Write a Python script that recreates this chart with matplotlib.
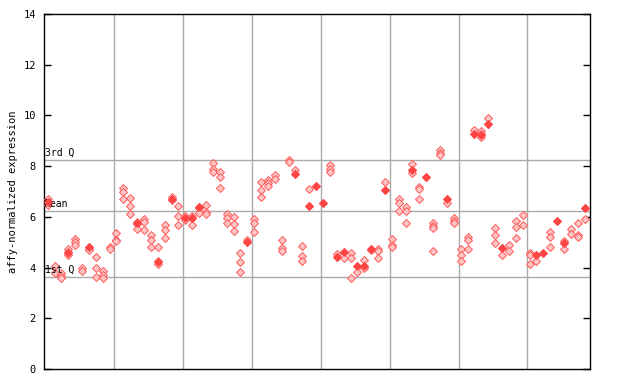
import matplotlib
matplotlib.use("Agg")
import matplotlib.pyplot as plt
import numpy as np

# values per sample column
samples = [
    [6.7, 6.57, 6.45], [4.07, 3.77], [3.77, 3.66, 3.6], [4.75, 4.62, 4.49],
    [5.13, 5.0, 4.9], [3.98, 3.88], [4.82, 4.75, 4.68], [4.4, 3.98, 3.62],
    [3.88, 3.7, 3.6], [4.8, 4.74],
    [5.38, 5.1, 5.05], [7.15, 6.98, 6.7], [6.74, 6.42, 6.12], [5.8, 5.73, 5.5],
    [5.93, 5.8, 5.47], [5.3, 5.1, 4.8], [4.82, 4.25, 4.15], [5.67, 5.48, 5.15],
    [6.77, 6.67], [6.43, 6.05, 5.69],
    [6.05, 5.95, 5.88], [6.05, 5.95, 5.68], [6.4, 6.35, 6.15], [6.45, 6.2, 6.1],
    [8.14, 7.9, 7.76], [7.75, 7.55, 7.12], [6.1, 5.94, 5.74], [5.98, 5.7, 5.44],
    [4.56, 4.2, 3.81], [5.1, 5.0],
    [5.91, 5.74, 5.39], [7.36, 7.05, 6.77], [7.45, 7.34, 7.21], [7.64, 7.47],
    [5.08, 4.76, 4.66], [8.23, 8.17], [7.84, 7.67], [4.85, 4.45, 4.27],
    [7.08, 6.43], [7.22],
    [6.53], [8.04, 7.9, 7.77], [4.52, 4.43], [4.62, 4.37],
    [4.57, 4.37, 3.57], [4.06, 3.83], [4.3, 4.06, 3.97], [4.75, 4.68],
    [4.72, 4.66, 4.36], [7.38, 7.05],
    [5.12, 4.89, 4.8], [6.69, 6.53, 6.23], [6.4, 6.23, 5.74], [8.1, 7.84, 7.71],
    [7.18, 7.08, 6.69], [7.58], [5.74, 5.63, 5.54, 4.65], [8.63, 8.52, 8.43],
    [6.72, 6.55], [5.94, 5.84, 5.74],
    [4.72, 4.48, 4.24], [5.21, 5.08, 4.75], [9.44, 9.26], [9.38, 9.28, 9.15],
    [9.88, 9.65], [5.54, 5.27, 4.98], [4.78, 4.48], [4.89, 4.66],
    [5.82, 5.58, 5.15], [6.06, 5.69],
    [4.56, 4.49, 4.12], [4.49, 4.24], [4.58], [5.39, 5.21, 4.79],
    [5.84], [5.06, 4.95, 4.74], [5.52, 5.32], [5.74, 5.29, 5.22],
    [6.33, 5.9],
]

# solid (overlapping) markers: column index and value
solid_cols = [0, 3, 6, 13, 16, 18, 20, 21, 22, 29, 36, 38, 39, 40, 42, 43, 45, 46,
              47, 49, 53, 55, 58, 62, 63, 64, 66, 71, 72, 74, 75, 78]
solid_vals = [6.57, 4.57, 4.8, 5.76, 4.2, 6.7, 5.96, 5.95, 6.4, 5.0, 7.67, 6.43, 7.22,
              6.53, 4.43, 4.62, 4.06, 4.06, 4.75, 7.05, 7.84, 7.58, 6.72, 9.26, 9.22,
              9.65, 4.78, 4.49, 4.58, 5.84, 4.95, 6.33]

q1, mean, q3 = 3.62, 6.22, 8.22
group_edges = [9.7, 19.7, 29.7, 39.7, 49.7, 59.7, 69.7]

xs, ys = [], []
for i, col in enumerate(samples):
    for v in col:
        xs.append(i)
        ys.append(v)

fig = plt.figure(figsize=(6.4, 3.84), dpi=100)
ax = fig.add_axes([0.0692, 0.039, 0.8528, 0.925])

for g in group_edges:
    ax.axvline(g, color="#aaaaaa", lw=1, zorder=1)
for h in (q1, mean, q3):
    ax.axhline(h, color="#aaaaaa", lw=1, zorder=1)

ax.plot(xs, ys, linestyle="none", marker="D", markersize=3.6,
        markerfacecolor="#ffc4c4", markeredgecolor="#ff5a5a", markeredgewidth=0.7, zorder=3)
ax.plot(solid_cols, solid_vals, linestyle="none", marker="D", markersize=4.0,
        markerfacecolor="#ff4444", markeredgecolor="#ff4444", markeredgewidth=0.5, zorder=4)

mono = "DejaVu Sans Mono"
ax.text(-0.45, q3 + 0.1, "3rd Q", fontsize=7, family=mono, va="bottom", ha="left")
ax.text(-0.45, mean + 0.1, "Mean", fontsize=7, family=mono, va="bottom", ha="left")
ax.text(-0.45, q1 + 0.1, "1st Q", fontsize=7, family=mono, va="bottom", ha="left")

ax.set_xlim(-0.49, 78.8)
ax.set_ylim(0, 14)
ax.set_yticks(range(0, 15, 2))
ax.set_xticks([])
ax.tick_params(axis="y", direction="in", length=5, width=1, labelsize=7.5,
               right=True, left=True, pad=6)
for lbl in ax.get_yticklabels():
    lbl.set_family(mono)
for s in ax.spines.values():
    s.set_color("black")
    s.set_linewidth(1)

ax.set_ylabel("affy-normalized expression", fontsize=7.5, family=mono)
ax.yaxis.set_label_coords(-0.048, 0.5)

fig.savefig("out.png", dpi=100)
